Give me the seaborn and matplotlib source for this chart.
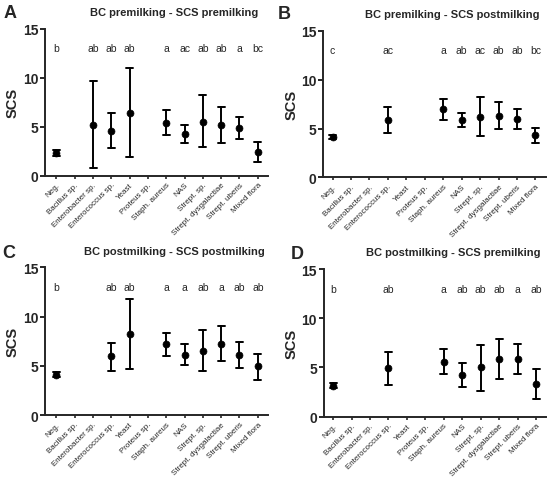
import matplotlib
matplotlib.use("Agg")
import matplotlib.pyplot as plt
import seaborn as sns
import pandas as pd

categories = ["Neg.", "Bacillus sp.", "Enterobacter sp.", "Enterococcus sp.", "Yeast",
              "Proteus sp.", "Staph. aureus", "NAS", "Strept. sp.",
              "Strept. dysgalactiae", "Strept. uberis", "Mixed flora"]

# mean, lower, upper (None = no data)
a_mean = [2.3, None, 5.2, 4.6, 6.4, None, 5.4, 4.2, 5.5, 5.2, 4.85, 2.4]
a_low = [2.0, None, 0.8, 2.8, 1.9, None, 4.1, 3.3, 2.9, 3.35, 3.7, 1.4]
a_high = [2.6, None, 9.7, 6.4, 11.0, None, 6.7, 5.15, 8.2, 7.05, 6.0, 3.4]
a_letters = ["b", "", "ab", "ab", "ab", "", "a", "ac", "ab", "ab", "a", "bc"]

b_mean = [4.1, None, None, 5.9, None, None, 6.95, 5.85, 6.2, 6.3, 6.0, 4.3]
b_low = [3.9, None, None, 4.5, None, None, 5.9, 5.15, 4.2, 4.95, 5.0, 3.5]
b_high = [4.3, None, None, 7.2, None, None, 8.0, 6.6, 8.25, 7.7, 6.95, 5.1]
b_letters = ["c", "", "", "ac", "", "", "a", "ab", "ac", "ab", "ab", "bc"]

c_mean = [4.1, None, None, 5.95, 8.2, None, 7.2, 6.15, 6.55, 7.25, 6.1, 4.95]
c_low = [3.9, None, None, 4.5, 4.7, None, 6.05, 5.1, 4.45, 5.5, 4.75, 3.6]
c_high = [4.35, None, None, 7.35, 11.8, None, 8.3, 7.2, 8.6, 9.0, 7.4, 6.25]
c_letters = ["b", "", "", "ab", "ab", "", "a", "a", "ab", "a", "ab", "ab"]

d_mean = [3.15, None, None, 4.9, None, None, 5.6, 4.25, 5.0, 5.85, 5.9, 3.3]
d_low = [2.9, None, None, 3.25, None, None, 4.3, 3.05, 2.65, 3.8, 4.35, 1.75]
d_high = [3.4, None, None, 6.6, None, None, 6.9, 5.45, 7.3, 7.9, 7.4, 4.85]
d_letters = ["b", "", "", "ab", "", "", "a", "ab", "ab", "ab", "a", "ab"]

titles = ["BC premilking - SCS premilking", "BC premilking - SCS postmilking",
          "BC postmilking - SCS postmilking", "BC postmilking - SCS premilking"]
panel_ids = ["A", "B", "C", "D"]

sns.set_style("ticks")
plt.rcParams["font.family"] = ["Liberation Sans", "DejaVu Sans"]

fig = plt.figure(figsize=(5.5, 4.81), dpi=100)
# left, bottom, width, height, xlim left, panel letter x, panel letter y
positions = [[0.082, 0.633, 0.405, 0.305, -0.62, 0.006, 0.972],
             [0.588, 0.629, 0.404, 0.305, -0.50, 0.505, 0.970],
             [0.082, 0.135, 0.405, 0.307, -0.62, 0.004, 0.474],
             [0.589, 0.132, 0.404, 0.306, -0.50, 0.528, 0.470]]

panels = [(a_mean, a_low, a_high, a_letters), (b_mean, b_low, b_high, b_letters),
          (c_mean, c_low, c_high, c_letters), (d_mean, d_low, d_high, d_letters)]

for k, (means, lows, highs, letters) in enumerate(panels):
    l, b, w, h, x0, px, py = positions[k]
    ax = fig.add_axes([l, b, w, h])
    rows = []
    for cat, m, lo, hi in zip(categories, means, lows, highs):
        if m is None:
            continue
        for v in (lo, m, hi):
            rows.append({"group": cat, "SCS": v})
    df = pd.DataFrame(rows)
    sns.pointplot(data=df, x="group", y="SCS", order=categories, ax=ax,
                  estimator="median", errorbar=lambda v: (v.min(), v.max()),
                  linestyle="none", color="black", markers="o", markersize=5,
                  markeredgewidth=0.5, capsize=0.38, err_kws={"linewidth": 1.4})
    for i, t in enumerate(letters):
        if t:
            ax.text(i, 13, t, ha="center", va="center", fontsize=7.5)
    ax.set_ylim(0, 15)
    ax.set_xlim(x0, 11.55)
    ax.set_yticks([0, 5, 10, 15])
    ax.set_yticklabels(["0", "5", "10", "15"], fontsize=10, fontweight="bold")
    ax.set_xticks(range(len(categories)))
    ax.set_xticklabels(categories, rotation=45, ha="right", rotation_mode="anchor",
                       fontsize=5.8)
    ax.tick_params(axis="x", length=2.5, width=1.2, pad=1.5)
    ax.tick_params(axis="y", length=3.5, width=1.4, pad=1.5)
    ax.set_xlabel("")
    ax.set_ylabel("SCS", fontsize=10.5, fontweight="bold", labelpad=2)
    for s in ("left", "bottom"):
        ax.spines[s].set_linewidth(1.4)
    sns.despine(ax=ax)
    ax.set_title(titles[k], fontsize=8, fontweight="bold", pad=10, x=0.58)
    fig.text(px, py, panel_ids[k], fontsize=13, fontweight="bold", va="center")

fig.savefig("out.png", dpi=100)
